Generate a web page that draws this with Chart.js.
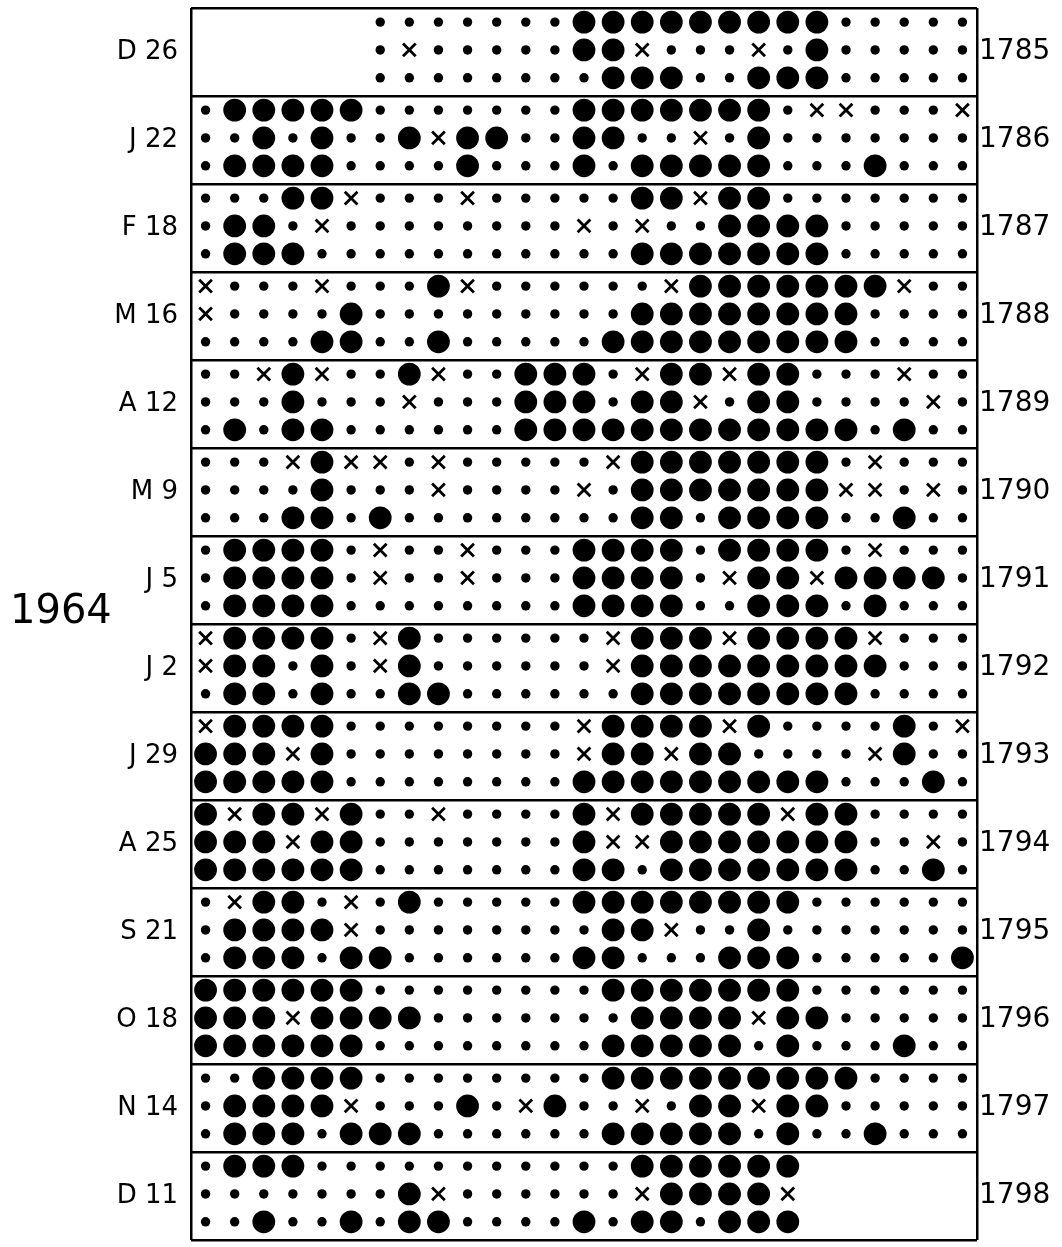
<!DOCTYPE html>
<html>
<head>
<meta charset="utf-8">
<script src="https://cdn.jsdelivr.net/npm/chart.js@4.4.1/dist/chart.umd.min.js"></script>
<style>
  html, body { margin: 0; padding: 0; background: #fff; }
  #wrap { width: 1062px; height: 1247px; }
</style>
</head>
<body>
<div id="wrap"><canvas id="c" width="1062" height="1247"></canvas></div>
<script>
// Band labels (date of each chart) and the year each band belongs to
const bandLabels = ["D 26", "J 22", "F 18", "M 16", "A 12", "M 9", "J 5",
                    "J 2", "J 29", "A 25", "S 21", "O 18", "N 14", "D 11"];
const yearLabels = ["1785", "1786", "1787", "1788", "1789", "1790", "1791",
                    "1792", "1793", "1794", "1795", "1796", "1797", "1798"];
const sideTitle = "1964";

// Cell codes, 27 columns per line, three lines per band:
// "." small dot, "x" cross, "O" large dot, " " no entry
const d26 = ["      .......OOOOOOOOO.....",
             "      .x.....OOx...x.O.....",
             "      ........OOO..OOO....."];
const j22 = [".OOOOO.......OOOOOOO.xx...x",
             "..O.O..OxOO..OO..x.O.......",
             ".OOOO....O...O.OOOOO...O..."];
const f18 = ["...OOx...x.....OOxOO.......",
             ".OO.x........x.x..OOOO.....",
             ".OOO...........OOOOOOO....."];
const m16 = ["x...x...Ox......xOOOOOOOx..",
             "x....O.........OOOOOOOO....",
             "....OO..O.....OOOOOOOOO...."];
const a12 = ["..xOx..Ox..OOO.xOOxOO...x..",
             "...O...x...OOO.OOx.OO....x.",
             ".O.OO......OOOOOOOOOOOO.O.."];
const m9  = ["...xOxx.x.....xOOOOOOO.x...",
             "....O...x....x.OOOOOOOxx.x.",
             "...OO.O........OO.OOOO..O.."];
const j5  = [".OOOO.x..x...OOOO.OOOO.x...",
             ".OOOO.x..x...OOOO.xOOxOOOO.",
             ".OOOO........OOOO..OOO.O..."];
const j2  = ["xOOOO.xO......xOOOxOOOOx...",
             "xOO.O.xO......xOOOOOOOOO...",
             ".OO.O..OO......OOOOOOOO...."];
const j29 = ["xOOOO........xOOOOxO....O.x",
             "OOOxO........xOOxOO....xO..",
             "OOOOO........OOOOOOOOO...O."];
const a25 = ["OxOOxO..x....OxOOOOOxOO....",
             "OOOxOO.......OxxOOOOOOO..x.",
             "OOOOOO.......OO.OOOOOOO..O."];
const s21 = [".xOO.x.O.....OOOOOOOO......",
             ".OOOOx........OOx..O.......",
             ".OOO.OO......OO...OOO.....O"];
const o18 = ["OOOOOO........OOOOOOO......",
             "OOOxOOOO.......OOOOxOO.....",
             "OOOOOO........OOOOO.O...O.."];
const n14 = ["..OOOO........OOOOOOOOO....",
             ".OOOOx...O.xO..x.OOxOO.....",
             ".OOO.OOO......OOOOO.O..O..."];
const d11 = [".OOO...........OOOOOO      ",
             ".......Ox......xOOOOx      ",
             "..O..O.OO....O.OO.OOO      "];

const bands = [d26, j22, f18, m16, a12, m9, j5, j2, j29, a25, s21, o18, n14, d11];

// layout: three lines per band, one column per unit
const LINES = 3;
const COLS = 27;
const LINE_STEP = 0.95;
const LINE_SHIFT = -0.02;

const smallPts = [], crossPts = [], bigPts = [];
bands.forEach((rows, b) => {
  rows.forEach((row, j) => {
    for (let k = 0; k < row.length; k++) {
      const p = { x: k, y: b * LINES + LINE_SHIFT + j * LINE_STEP };
      const c = row[k];
      if (c === ".") smallPts.push(p);
      else if (c === "x") crossPts.push(p);
      else if (c === "O") bigPts.push(p);
    }
  });
});

const Y_MIN = -0.5, Y_MAX = bands.length * LINES - 0.5;
const bandCenters = bands.map((_, b) => b * LINES + 1);
const bandEdges = [];
for (let b = 0; b <= bands.length; b++) bandEdges.push(b * LINES - 0.5);

// vertical label axes sit inside the frame, so they need no extra edge room
const noEdgePadding = s => { s.paddingTop = 0; s.paddingBottom = 0; };

// draws the year of the chart beside the label column
const sideTitlePlugin = {
  id: "sideTitle",
  afterDraw(chart) {
    const y = chart.scales.y.getPixelForValue(20.1);
    const ctx = chart.ctx;
    ctx.save();
    ctx.fillStyle = "#000";
    ctx.font = "40px 'DejaVu Sans', sans-serif";
    ctx.textAlign = "left";
    ctx.textBaseline = "middle";
    ctx.fillText(sideTitle, 10, y);
    ctx.restore();
  }
};

new Chart(document.getElementById("c"), {
  type: "scatter",
  data: {
    datasets: [
      { label: "small", data: smallPts, pointStyle: "circle", pointRadius: 4.7,
        backgroundColor: "#000", borderWidth: 0 },
      { label: "cross", data: crossPts, pointStyle: "crossRot", pointRadius: 9,
        borderColor: "#000", borderWidth: 2.8, backgroundColor: "#000" },
      { label: "large", data: bigPts, pointStyle: "circle", pointRadius: 11.4,
        backgroundColor: "#000", borderWidth: 0 }
    ]
  },
  options: {
    responsive: false,
    animation: false,
    devicePixelRatio: 1,
    layout: { autoPadding: false, padding: { top: 8, bottom: 7, left: 0, right: 0 } },
    plugins: { legend: { display: false }, tooltip: { enabled: false } },
    elements: { point: { hoverRadius: 0 } },
    scales: {
      x: {
        type: "linear", position: "bottom", min: -0.5, max: COLS - 0.5,
        afterBuildTicks: s => { s.ticks = [{ value: -0.5 }, { value: COLS - 0.5 }]; },
        grid: { color: "#000", lineWidth: 2.5, drawTicks: false },
        border: { display: false },
        ticks: { display: false }
      },
      y: {
        type: "linear", position: "left", reverse: true, min: Y_MIN, max: Y_MAX,
        afterBuildTicks: s => { s.ticks = bandCenters.map(v => ({ value: v })); },
        afterFit: s => { s.width = 191; noEdgePadding(s); },
        grid: { display: false, drawTicks: false },
        border: { display: false },
        ticks: {
          color: "#000", font: { family: "'DejaVu Sans', sans-serif", size: 26 }, padding: 13,
          callback: v => bandLabels[Math.round((v - 1) / LINES)]
        }
      },
      years: {
        type: "linear", position: "right", reverse: true, min: Y_MIN, max: Y_MAX,
        afterBuildTicks: s => { s.ticks = bandCenters.map(v => ({ value: v })); },
        afterFit: s => { s.width = 85; noEdgePadding(s); },
        grid: { display: false, drawTicks: false },
        border: { display: false },
        ticks: {
          color: "#000", font: { family: "'DejaVu Sans', sans-serif", size: 28 }, padding: 2,
          callback: v => yearLabels[Math.round((v - 1) / LINES)]
        }
      },
      bandRules: {
        type: "linear", position: "left", reverse: true, min: Y_MIN, max: Y_MAX,
        afterBuildTicks: s => { s.ticks = bandEdges.map(v => ({ value: v })); },
        afterFit: s => { s.width = 0; noEdgePadding(s); },
        grid: { color: "#000", lineWidth: 2.5, drawTicks: false },
        border: { display: false },
        ticks: { display: false }
      }
    }
  },
  plugins: [sideTitlePlugin]
});
</script>
</body>
</html>
